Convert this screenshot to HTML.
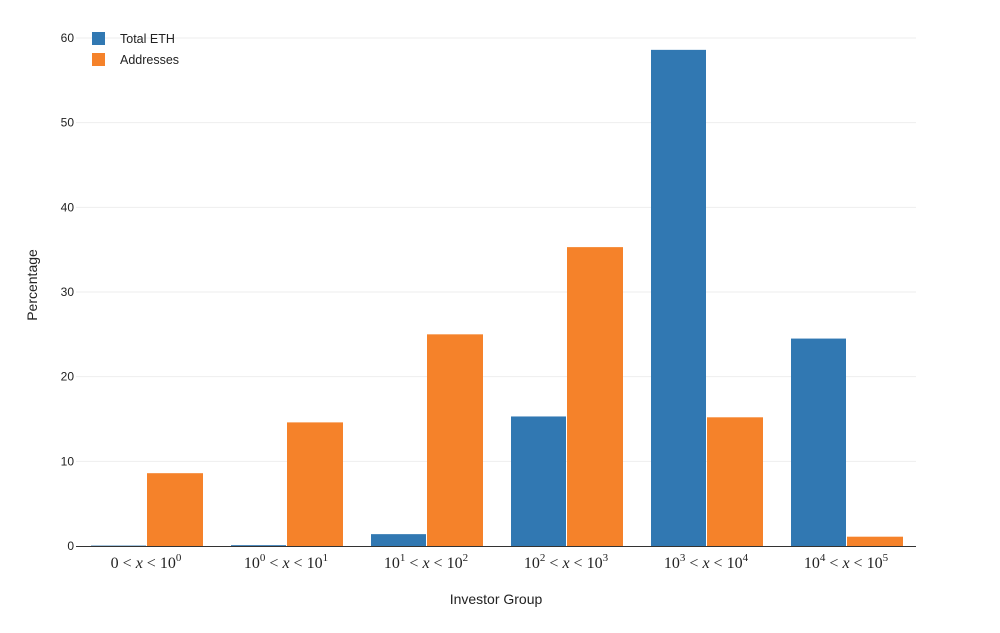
<!DOCTYPE html>
<html><head><meta charset="utf-8"><style>
body{margin:0;background:#fff;width:1000px;height:628px;overflow:hidden;font-family:"Liberation Sans",sans-serif}
svg text{font-family:"Liberation Sans",sans-serif}
svg text.xl{font-family:"Liberation Serif",serif;font-size:16px;fill:#222}
</style></head><body>
<svg width="1000" height="628">
<g id="grid"></g>
<g id="bars"></g>
<g id="axes"></g>
<text x="496" y="604" font-size="14" fill="#222" text-anchor="middle">Investor Group</text>
<text transform="translate(37,285) rotate(-90)" font-size="14" fill="#222" text-anchor="middle">Percentage</text>
<g>
<rect x="92" y="32" width="13" height="13" fill="#3178b2"/>
<text x="120" y="43" font-size="12.5" fill="#222">Total ETH</text>
<rect x="92" y="53" width="13" height="13" fill="#f5822a"/>
<text x="120" y="64" font-size="12.5" fill="#222">Addresses</text>
</g>
</svg>
<script>
const categories=[["0","0","0"],["10","0","1"],["10","1","2"],["10","2","3"],["10","3","4"],["10","4","5"]];
const totalEth=[0.05,0.1,1.4,15.3,58.6,24.5];
const addresses=[8.6,14.6,25.0,35.3,15.2,1.1];
const yTicks=[0,10,20,30,40,50,60];
const NS="http://www.w3.org/2000/svg";
const x0=76,x1=916,y0=546,y1=38,ymax=60;
const yS=v=>y0-(v/ymax)*(y0-y1);
const gw=(x1-x0)/categories.length;
const grid=document.getElementById('grid'),bars=document.getElementById('bars'),axes=document.getElementById('axes');
function mk(tag,a,p){const e=document.createElementNS(NS,tag);for(const k in a)e.setAttribute(k,a[k]);p.appendChild(e);return e;}
yTicks.forEach(t=>{
  if(t>0){const l=mk('line',{x1:x0,x2:x1,y1:yS(t),y2:yS(t),stroke:'#eee'},grid);
  
  }
  const tx=mk('text',{x:x0-2,y:yS(t)+4,'font-size':12,fill:'#222','text-anchor':'end'},axes);
  tx.textContent=t;
  
  
});
categories.forEach((c,i)=>{
  const gx=x0+gw*i;
  const b=mk('rect',{x:gx+15,y:yS(totalEth[i]),width:55,height:y0-yS(totalEth[i]),fill:'#3178b2'},bars);
  
  
  const o=mk('rect',{x:gx+71,y:yS(addresses[i]),width:56,height:y0-yS(addresses[i]),fill:'#f5822a'},bars);
  
  
  const t=mk('text',{x:gx+gw/2,y:568,'text-anchor':'middle',class:'xl'},axes);
  
  
  let h;
  if(c[0]==='0')h='0<tspan> &lt; </tspan>';
  else h=c[0]+'<tspan dy="-7" font-size="11">'+c[1]+'</tspan><tspan dy="7"> &lt; </tspan>';
  h+='<tspan font-style="italic">x</tspan><tspan> &lt; 10</tspan><tspan dy="-7" font-size="11">'+c[2]+'</tspan>';
  t.innerHTML=h;
});
const ax=mk('line',{x1:x0,x2:x1,y1:y0+0.5,y2:y0+0.5,stroke:'#333'},axes);


</script>
</body></html>
